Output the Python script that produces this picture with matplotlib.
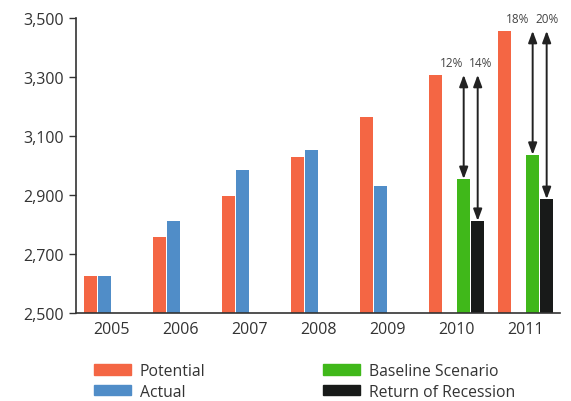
import numpy as np
import matplotlib
matplotlib.use("Agg")
import matplotlib.pyplot as plt
from matplotlib.patches import Patch

plt.rcParams['font.family'] = ['Open Sans', 'DejaVu Sans']

years = ['2005', '2006', '2007', '2008', '2009', '2010', '2011']
potential = [2625, 2758, 2897, 3029, 3164, 3307, 3456]
actual = [2625, 2812, 2985, 3053, 2930, np.nan, np.nan]
baseline = [np.nan, np.nan, np.nan, np.nan, np.nan, 2954, 3036]
recession = [np.nan, np.nan, np.nan, np.nan, np.nan, 2812, 2886]

# gap labels for the scenario years: (year index, series, label)
gap_labels = [(5, 'baseline', '12%'), (5, 'recession', '14%'),
              (6, 'baseline', '18%'), (6, 'recession', '20%')]

colors = {'potential': '#F46644', 'actual': '#508DC8',
          'baseline': '#40B81A', 'recession': '#181A19'}

fig = plt.figure(figsize=(5.71, 4.02), dpi=100)
ax = fig.add_axes([0.133, 0.219, 0.848, 0.734])

x = np.arange(len(years))
slot = 0.203
width = 0.19
series = [('potential', potential, 'Potential'),
          ('actual', actual, 'Actual'),
          ('baseline', baseline, 'Baseline Scenario'),
          ('recession', recession, 'Return of Recession')]
centers = {}
for k, (key, vals, lab) in enumerate(series):
    pos = x + (k - 1.5) * slot
    centers[key] = pos
    ax.bar(pos, np.array(vals, dtype=float) - 2500, width=width, bottom=2500,
           color=colors[key], linewidth=0, label=lab, zorder=2)

values = {'potential': potential, 'baseline': baseline, 'recession': recession}
label_dx = {(5, 'baseline'): -12, (5, 'recession'): 3,
            (6, 'baseline'): -15, (6, 'recession'): 0}
for i, key, txt in gap_labels:
    xc = centers[key][i]
    ax.annotate('', xy=(xc, values[key][i]), xytext=(xc, potential[i]),
                arrowprops=dict(arrowstyle='<|-|>,head_length=0.35,head_width=0.13',
                                mutation_scale=20, color='#222222', lw=1.4,
                                shrinkA=0, shrinkB=0),
                annotation_clip=False, zorder=3)
    ax.annotate(txt, xy=(xc, potential[i]), xytext=(label_dx[(i, key)] * 0.72, 4),
                textcoords='offset points', ha='center', va='bottom',
                fontsize=8.5, color='#444444', annotation_clip=False)

ax.set_xlim(-0.52, 6.5)
ax.set_ylim(2500, 3500)
ax.set_yticks([2500, 2700, 2900, 3100, 3300, 3500])
ax.set_yticklabels(['2,500', '2,700', '2,900', '3,100', '3,300', '3,500'])
ax.set_xticks(x)
ax.set_xticklabels(years)
ax.tick_params(axis='x', length=0, pad=6, labelsize=11.5, colors='#333333')
ax.tick_params(axis='y', length=5, width=1, pad=4, labelsize=11.5,
               colors='#333333', direction='out')
for s in ['top', 'right']:
    ax.spines[s].set_visible(False)
for s in ['left', 'bottom']:
    ax.spines[s].set_color('#333333')
    ax.spines[s].set_linewidth(1.2)

handles = [Patch(color=colors[k]) for k, _, _ in series]
labels = [lab for _, _, lab in series]
fig.legend(handles, labels, ncol=2, loc='upper left',
           bbox_to_anchor=(0.154, 0.11), frameon=False, fontsize=11.3,
           handlelength=2.35, handleheight=0.65, handletextpad=0.56,
           columnspacing=7.5, labelspacing=0.3, labelcolor='#333333',
           borderaxespad=0)

fig.savefig('out.png', dpi=100)
